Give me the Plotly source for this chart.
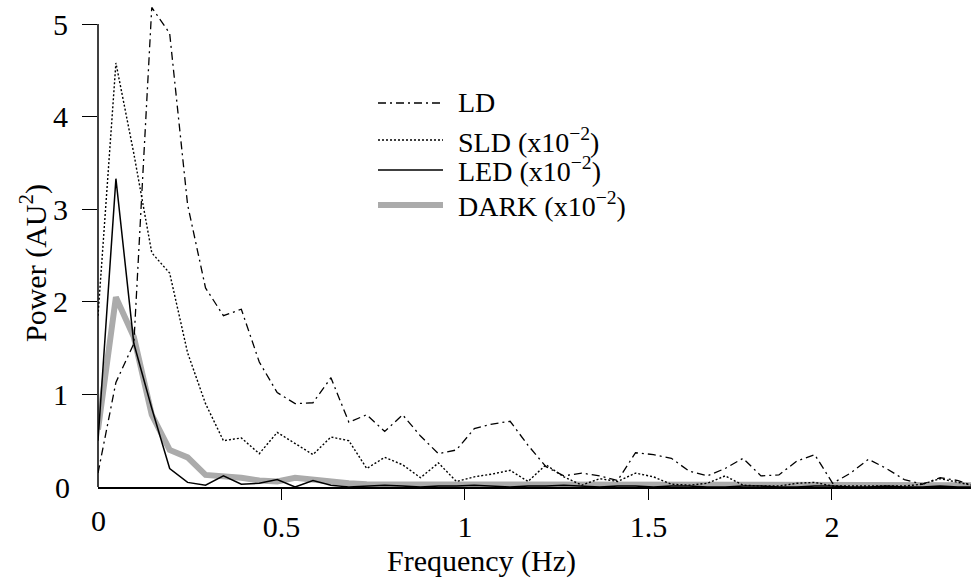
import plotly.graph_objects as go

# Frequency bins (Hz)
freq = [0.0000, 0.0488, 0.0977, 0.1465, 0.1953, 0.2441, 0.2930, 0.3418, 0.3906, 0.4395,
        0.4883, 0.5371, 0.5859, 0.6348, 0.6836, 0.7324, 0.7813, 0.8301, 0.8789, 0.9277,
        0.9766, 1.0254, 1.0742, 1.1230, 1.1719, 1.2207, 1.2695, 1.3184, 1.3672, 1.4160,
        1.4648, 1.5137, 1.5625, 1.6113, 1.6602, 1.7090, 1.7578, 1.8066, 1.8555, 1.9043,
        1.9531, 2.0020, 2.0508, 2.0996, 2.1484, 2.1973, 2.2461, 2.2949, 2.3438, 2.3926]

# Power spectra (AU^2); SLD, LED and DARK are in units of 1e-2
ld = [0.15, 1.13, 1.55, 5.18, 4.90, 3.05, 2.15, 1.85, 1.92, 1.35,
      1.02, 0.90, 0.91, 1.18, 0.70, 0.78, 0.60, 0.78, 0.55, 0.36,
      0.40, 0.63, 0.68, 0.71, 0.45, 0.22, 0.12, 0.15, 0.12, 0.07,
      0.37, 0.35, 0.31, 0.17, 0.12, 0.20, 0.31, 0.12, 0.13, 0.28,
      0.35, 0.04, 0.15, 0.30, 0.20, 0.08, 0.03, 0.10, 0.07, 0.00]

sld = [1.85, 4.58, 3.60, 2.53, 2.31, 1.45, 0.90, 0.50, 0.53, 0.36,
       0.59, 0.47, 0.35, 0.54, 0.50, 0.20, 0.32, 0.24, 0.10, 0.26,
       0.06, 0.11, 0.14, 0.18, 0.06, 0.24, 0.11, 0.02, 0.09, 0.06,
       0.15, 0.11, 0.03, 0.02, 0.04, 0.12, 0.02, 0.01, 0.01, 0.04,
       0.05, 0.01, 0.01, 0.01, 0.01, 0.01, 0.03, 0.09, 0.05, 0.01]

led = [0.50, 3.33, 1.55, 0.85, 0.20, 0.05, 0.02, 0.12, 0.03, 0.04,
       0.08, 0.00, 0.07, 0.02, 0.00, 0.01, 0.02, 0.01, 0.00, 0.01,
       0.01, 0.02, 0.01, 0.00, 0.01, 0.01, 0.02, 0.01, 0.00, 0.01,
       0.01, 0.00, 0.01, 0.01, 0.00, 0.00, 0.01, 0.01, 0.00, 0.00,
       0.01, 0.01, 0.00, 0.00, 0.01, 0.00, 0.00, 0.01, 0.00, 0.00]

dark = [0.62, 2.05, 1.62, 0.78, 0.40, 0.32, 0.13, 0.12, 0.10, 0.07,
        0.06, 0.10, 0.08, 0.05, 0.04, 0.03, 0.03, 0.03, 0.02, 0.02,
        0.02, 0.02, 0.02, 0.03, 0.02, 0.02, 0.02, 0.02, 0.02, 0.02,
        0.02, 0.02, 0.02, 0.02, 0.02, 0.02, 0.02, 0.02, 0.02, 0.02,
        0.02, 0.02, 0.02, 0.02, 0.02, 0.02, 0.02, 0.02, 0.02, 0.02]

x_ticks = [0.5, 1, 1.5, 2]
x_tick_text = ["0.5", "1", "1.5", "2"]
y_ticks = [1, 2, 3, 4, 5]
y_tick_text = ["1", "2", "3", "4", "5"]

legend_names = ["LD", "SLD (x10<sup>\u22122</sup>)", "LED (x10<sup>\u22122</sup>)",
                "DARK (x10<sup>\u22122</sup>)"]

FONT = "Liberation Serif"
W, H = 971, 579
ML, MR, MT, MB = 98, 0, 0, 92
PW, PH = W - ML - MR, H - MT - MB

DASHDOT = "8px,4px,2px,4px"
DOTTED = "2px,2px"
GREY = "#ababab"

styles = [
    dict(color="black", width=1.3, dash=DASHDOT),
    dict(color="black", width=1.4, dash=DOTTED),
    dict(color="black", width=1.5, dash="solid"),
    dict(color=GREY, width=6, dash="solid"),
]
series = [ld, sld, led, dark]

fig = go.Figure()
# grey band first so the thin lines sit on top of it
for idx in [3, 0, 1, 2]:
    fig.add_trace(go.Scatter(x=freq, y=series[idx], mode="lines",
                             line=styles[idx], showlegend=False,
                             name=legend_names[idx]))


def px_x(p):
    return (p - ML) / PW


def px_y(p):
    return (MT + PH - p) / PH


shapes = []
annotations = []

# y axis line spans only the labelled range 0..5
shapes.append(dict(type="line", xref="paper", yref="y", x0=0, x1=0, y0=0, y1=5,
                   line=dict(color="black", width=1.5)))

# hand-placed key
key_rows = [103, 140, 170, 205]
for i, row in enumerate(key_rows):
    st = styles[i]
    shapes.append(dict(type="line", xref="paper", yref="paper",
                       x0=px_x(378), x1=px_x(443), y0=px_y(row), y1=px_y(row),
                       line=dict(color=st["color"], width=st["width"], dash=st["dash"])))
    annotations.append(dict(xref="paper", yref="paper", x=px_x(456), y=px_y(row),
                            xanchor="left", yanchor="middle", showarrow=False,
                            text=legend_names[i],
                            font=dict(family=FONT, size=28, color="black")))

# zero labels (no tick mark at the origin)
annotations.append(dict(xref="paper", yref="y", x=0, y=0, xshift=-36, xanchor="center",
                        yanchor="middle", showarrow=False, text="0",
                        font=dict(family=FONT, size=30, color="black")))
annotations.append(dict(xref="x", yref="paper", x=0, y=0, yshift=-33, xanchor="center",
                        yanchor="middle", showarrow=False, text="0",
                        font=dict(family=FONT, size=30, color="black")))

# axis titles
annotations.append(dict(xref="paper", yref="paper", x=px_x(481), y=px_y(561),
                        xanchor="center", yanchor="middle", showarrow=False,
                        text="Frequency (Hz)",
                        font=dict(family=FONT, size=30, color="black")))
annotations.append(dict(xref="paper", yref="paper", x=px_x(33), y=px_y(263),
                        xanchor="center", yanchor="middle", showarrow=False,
                        textangle=-90, text="Power (AU<sup>2</sup>)",
                        font=dict(family=FONT, size=30, color="black")))

fig.update_layout(
    width=W, height=H,
    margin=dict(l=ML, r=MR, t=MT, b=MB, pad=0),
    paper_bgcolor="white", plot_bgcolor="white",
    font=dict(family=FONT, size=30, color="black"),
    shapes=shapes, annotations=annotations,
    xaxis=dict(range=[0, 2.379], tickvals=x_ticks, ticktext=x_tick_text,
               ticks="outside", ticklen=11, tickwidth=1.3, tickcolor="black",
               showline=True, linecolor="black", linewidth=1.5,
               showgrid=False, zeroline=False, ticklabelstandoff=1),
    yaxis=dict(range=[0, 5.26], tickvals=y_ticks, ticktext=y_tick_text,
               ticks="outside", ticklen=15, tickwidth=1.3, tickcolor="black",
               showline=False, showgrid=False, zeroline=False, ticklabelstandoff=8),
)

fig.write_html("out.html")
